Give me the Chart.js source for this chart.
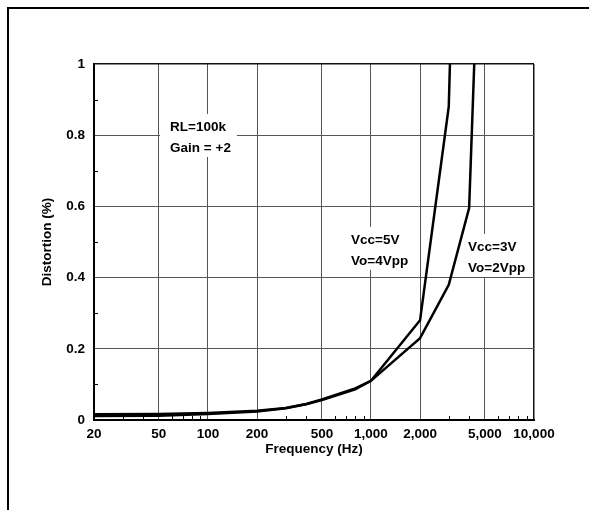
<!DOCTYPE html>
<html>
<head>
<meta charset="utf-8">
<script src="https://cdn.jsdelivr.net/npm/chart.js@4/dist/chart.umd.min.js"></script>
<style>
  html, body { margin: 0; padding: 0; background: #fff; }
  #distorcao { display: block; }
</style>
</head>
<body>
<canvas id="distorcao" width="589" height="510"></canvas>
<script>
// curvas de distorção (%) x frequência (Hz)
const freq5V = [20, 50, 100, 200, 300, 400, 500, 800, 1000, 2000, 3000, 3050];
const dist5V = [0.016, 0.017, 0.02, 0.026, 0.034, 0.045, 0.058, 0.089, 0.11, 0.28, 0.88, 1.0];
const freq3V = [20, 50, 100, 200, 300, 400, 500, 800, 1000, 2000, 3000, 4000, 4300];
const dist3V = [0.011, 0.012, 0.017, 0.024, 0.033, 0.044, 0.056, 0.086, 0.11, 0.23, 0.38, 0.595, 1.0];

const freqTicks = [20, 50, 100, 200, 500, 1000, 2000, 5000, 10000];
const freqMinor = [30, 40, 60, 70, 80, 90, 300, 400, 600, 700, 800, 900, 3000, 4000, 6000, 7000, 8000, 9000];
const distTicks = [0, 0.2, 0.4, 0.6, 0.8, 1];
const distMinor = [0.1, 0.3, 0.5, 0.7, 0.9];

// textos dentro do grafico, ancorados em (freq, distorcao)
const notas = [
  { freq: 58.6, dist: 0.823, linhas: ["RL=100k", "Gain = +2"] },
  { freq: 755, dist: 0.506, linhas: ["Vcc=5V", "Vo=4Vpp"] },
  { freq: 3940, dist: 0.486, linhas: ["Vcc=3V", "Vo=2Vpp"] },
];

const fonte = { family: '"Liberation Sans", Arial, sans-serif', size: 13.5, weight: "bold" };

function pontos(xs, ys) {
  return xs.map((x, i) => ({ x: x, y: ys[i] }));
}

// moldura, marcas menores e caixas de texto
const extras = {
  id: "extras",
  beforeDatasetsDraw(chart) {
    const { ctx, chartArea, scales } = chart;
    ctx.save();
    ctx.strokeStyle = "#000";
    ctx.lineWidth = 1;
    ctx.beginPath();
    freqMinor.forEach((f) => {
      const x = Math.round(scales.x.getPixelForValue(f)) + 0.5;
      ctx.moveTo(x, chartArea.bottom);
      ctx.lineTo(x, chartArea.bottom - 4);
    });
    distMinor.forEach((d) => {
      const y = Math.round(scales.y.getPixelForValue(d)) + 0.5;
      ctx.moveTo(chartArea.left, y);
      ctx.lineTo(chartArea.left + 4, y);
    });
    ctx.stroke();

    ctx.font = fonte.weight + " " + fonte.size + "px " + fonte.family;
    ctx.textBaseline = "middle";
    ctx.textAlign = "left";
    notas.forEach((n) => {
      const x = scales.x.getPixelForValue(n.freq);
      const y = scales.y.getPixelForValue(n.dist);
      const largura = Math.max(...n.linhas.map((l) => ctx.measureText(l).width));
      ctx.fillStyle = "#fff";
      ctx.fillRect(x - 10, y - 13, largura + 16, 21 * (n.linhas.length - 1) + 22);
      ctx.fillStyle = "#000";
      n.linhas.forEach((l, i) => ctx.fillText(l, x, y + i * 21));
    });
    ctx.restore();
  },
  afterDraw(chart) {
    const ctx = chart.ctx;
    ctx.save();
    ctx.strokeStyle = "#000";
    ctx.lineWidth = 2;
    ctx.beginPath();
    ctx.moveTo(8, 510);
    ctx.lineTo(8, 8);
    ctx.lineTo(589, 8);
    ctx.stroke();
    ctx.restore();
  },
};

let grafico = new Chart(document.getElementById("distorcao"), {
  type: "line",
  data: {
    datasets: [
      {
        label: "Vcc=5V",
        data: pontos(freq5V, dist5V),
        borderColor: "#000",
        borderWidth: 2.5,
        pointRadius: 0,
        tension: 0,
      },
      {
        label: "Vcc=3V",
        data: pontos(freq3V, dist3V),
        borderColor: "#000",
        borderWidth: 2.5,
        pointRadius: 0,
        tension: 0,
      },
    ],
  },
  options: {
    responsive: false,
    animation: false,
    layout: { padding: { top: 64, right: 55, left: 0, bottom: 0 } },
    plugins: {
      legend: { display: false },
      tooltip: { enabled: false },
    },
    scales: {
      x: {
        type: "logarithmic",
        min: 20,
        max: 10000,
        afterBuildTicks: (scale) => {
          scale.ticks = freqTicks.map((v) => ({ value: v }));
        },
        afterFit: (scale) => {
          scale.height = 90;
        },
        ticks: {
          autoSkip: false,
          maxRotation: 0,
          padding: 6,
          color: "#000",
          font: fonte,
          callback: (v) => Number(v).toLocaleString("en-US"),
        },
        grid: {
          drawTicks: false,
          color: (c) => (c.tick && c.tick.value === 10000 ? "#111" : "#555"),
          lineWidth: (c) => (c.tick && c.tick.value === 10000 ? 1.5 : 1),
        },
        border: { color: "#000", width: 2 },
        title: {
          display: true,
          text: "Frequency (Hz)",
          color: "#000",
          font: fonte,
          padding: { top: 0, bottom: 53 },
        },
      },
      y: {
        min: 0,
        max: 1,
        afterBuildTicks: (scale) => {
          scale.ticks = distTicks.map((v) => ({ value: v }));
        },
        afterFit: (scale) => {
          scale.width = 94;
        },
        ticks: {
          padding: 9,
          color: "#000",
          font: fonte,
          callback: (v) => String(v),
        },
        grid: {
          drawTicks: false,
          color: (c) => (c.tick && c.tick.value === 1 ? "#111" : "#555"),
          lineWidth: (c) => (c.tick && c.tick.value === 1 ? 1.5 : 1),
        },
        border: { color: "#000", width: 2 },
        title: {
          display: true,
          text: "Distortion (%)",
          color: "#000",
          font: fonte,
          padding: { top: 39, bottom: 0 },
        },
      },
    },
  },
  plugins: [extras],
});
</script>
</body>
</html>
